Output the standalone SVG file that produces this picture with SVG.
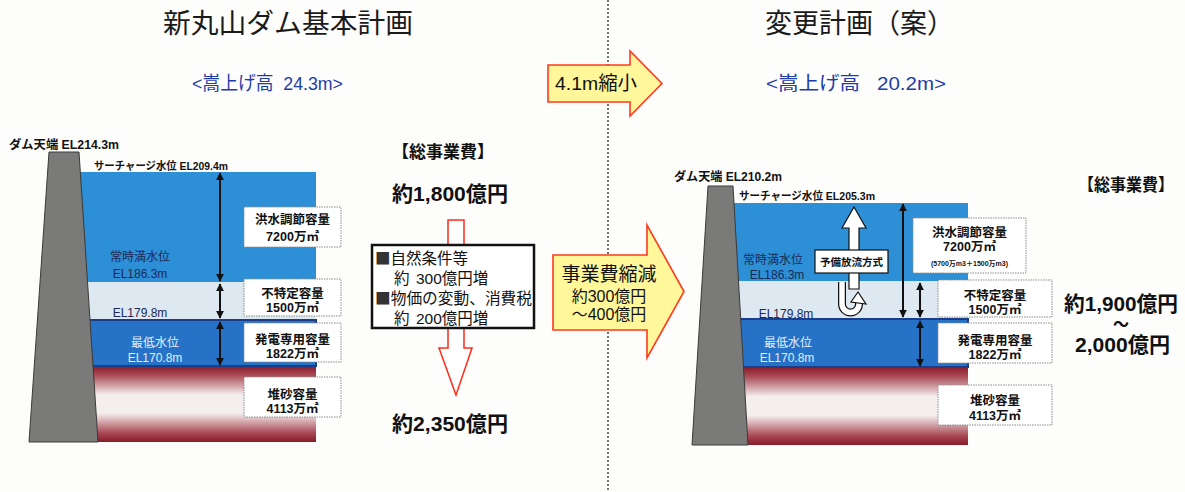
<svg xmlns="http://www.w3.org/2000/svg" width="1185" height="492" viewBox="0 0 1185 492">
  <defs>
    <linearGradient id="sediment" x1="0" y1="0" x2="0" y2="1">
      <stop offset="0" stop-color="#8a1a2a"/>
      <stop offset="0.12" stop-color="#a84a55"/>
      <stop offset="0.38" stop-color="#f5eeee"/>
      <stop offset="0.62" stop-color="#f5eeee"/>
      <stop offset="0.88" stop-color="#a84a55"/>
      <stop offset="1" stop-color="#8a1a2a"/>
    </linearGradient>
    <marker id="ah" viewBox="0 0 10 10" refX="9" refY="5" markerWidth="4" markerHeight="4" orient="auto-start-reverse">
      <path d="M0,0 L10,5 L0,10 Z" fill="#111"/>
    </marker>
  </defs>
  <style>
    text { font-family: "Liberation Sans", "Noto Sans CJK JP", sans-serif; }
    .title { font-size: 27px; fill: #1a1a1a; }
    .rise { font-size: 19px; fill: #1e3ca8; }
    .lab { font-size: 12.5px; font-weight: bold; fill: #111; }
    .lvl { font-size: 11px; font-weight: bold; fill: #111; }
    .wl { font-size: 12px; fill: #1b2a58; }
    .wl2 { font-size: 12px; fill: #e4eeff; }
    .box { fill: #ffffff; stroke: #8c8c8c; stroke-width: 1; stroke-dasharray: 1.5 1; }
    .bt { font-size: 12.5px; font-weight: bold; fill: #111; text-anchor: middle; }
    .cost { font-size: 21px; font-weight: bold; fill: #111; }
    .head { font-size: 17px; font-weight: bold; fill: #111; }
    .sq { font-family: "Noto Sans CJK JP", sans-serif; fill: #333; }
    .dam { fill: #7a7a78; stroke: #3a3a3a; stroke-width: 1; }
    .flood { fill: #2d8fd6; }
    .inact { fill: #dde8f1; }
    .power { fill: #2572c6; stroke: #1c3d88; stroke-width: 2; }
    .sed { fill: url(#sediment); }
    .dim { stroke: #111; stroke-width: 2; marker-start: url(#ah); marker-end: url(#ah); }
    .yarrow { fill: #fff79a; stroke: #ff3a1e; stroke-width: 1.6; }
  </style>

  <rect width="1185" height="492" fill="#fdfdfb"/>

  <!-- section titles -->
  <text class="title" x="163" y="33" textLength="250" lengthAdjust="spacingAndGlyphs">新丸山ダム基本計画</text>
  <text class="title" x="765" y="33">変更計画（案）</text>
  <text class="rise" x="192" y="90" textLength="151" lengthAdjust="spacingAndGlyphs" xml:space="preserve">&lt;嵩上げ高  24.3m&gt;</text>
  <text class="rise" x="766" y="90" textLength="180" lengthAdjust="spacingAndGlyphs" xml:space="preserve">&lt;嵩上げ高   20.2m&gt;</text>

  <!-- dividing line -->
  <line x1="608" y1="0" x2="608" y2="492" stroke="#444" stroke-width="1.5" stroke-dasharray="2 2"/>

  <!-- basic plan: reservoir cross-section -->
  <g id="reservoir-basic">
    <rect class="flood" x="70" y="172" width="246" height="110"/>
    <rect class="inact" x="70" y="282" width="246" height="38"/>
    <rect class="sed" x="70" y="366" width="246" height="76"/>
    <rect class="power" x="70" y="320" width="246" height="46"/>
    <polygon class="dam" points="49,152 79,152 98,442 29,442"/>
    <text class="lab" x="9" y="149" textLength="110" lengthAdjust="spacingAndGlyphs">ダム天端  EL214.3m</text>
    <text class="lvl" x="94" y="170" textLength="134" lengthAdjust="spacingAndGlyphs">サーチャージ水位  EL209.4m</text>
    <text class="wl" x="140" y="261" text-anchor="middle">常時満水位</text>
    <text class="wl" x="140" y="278" text-anchor="middle">EL186.3m</text>
    <text class="wl" x="140" y="317" text-anchor="middle">EL179.8m</text>
    <text class="wl2" x="155" y="347" text-anchor="middle">最低水位</text>
    <text class="wl2" x="155" y="362" text-anchor="middle">EL170.8m</text>
  </g>

  <g id="volumes-basic">
    <rect class="box" x="244" y="207" width="97" height="40"/>
    <text class="bt" x="292.5" y="224">洪水調節容量</text>
    <text class="bt" x="292.5" y="241">7200万㎡</text>
    <rect class="box" x="244" y="279" width="97" height="37"/>
    <text class="bt" x="292.5" y="298">不特定容量</text>
    <text class="bt" x="292.5" y="312">1500万㎡</text>
    <rect class="box" x="244" y="323" width="97" height="39"/>
    <text class="bt" x="292.5" y="344">発電専用容量</text>
    <text class="bt" x="292.5" y="358">1822万㎡</text>
    <rect class="box" x="244" y="377" width="97" height="40"/>
    <text class="bt" x="292.5" y="399">堆砂容量</text>
    <text class="bt" x="292.5" y="413">4113万㎡</text>
  </g>

  <!-- revised plan: reservoir cross-section -->
  <g id="reservoir-revised">
    <rect class="flood" x="725" y="203" width="243" height="78"/>
    <rect class="inact" x="725" y="281" width="243" height="38"/>
    <rect class="sed" x="725" y="367" width="243" height="78"/>
    <rect class="power" x="725" y="319" width="243" height="48"/>
    <polygon class="dam" points="708,186 733,186 748,445 692,445"/>
    <text class="lab" x="674" y="181" textLength="108" lengthAdjust="spacingAndGlyphs">ダム天端  EL210.2m</text>
    <text class="lvl" x="739" y="200" textLength="136" lengthAdjust="spacingAndGlyphs">サーチャージ水位  EL205.3m</text>
    <text class="wl" x="773" y="264" text-anchor="middle">常時満水位</text>
    <text class="wl" x="777" y="279" text-anchor="middle">EL186.3m</text>
    <text class="wl" x="786" y="318" text-anchor="middle">EL179.8m</text>
    <text class="wl2" x="788" y="347" text-anchor="middle">最低水位</text>
    <text class="wl2" x="787" y="362" text-anchor="middle">EL170.8m</text>
  </g>

  <g id="pre-release">
    <polygon points="854,207 866,228 859,228 859,289 849,289 849,228 842,228" fill="#fff" stroke="#111" stroke-width="1.2"/>
    <path d="M842,282 V304 A8.5,8.5 0 0 0 859,304 V301" fill="none" stroke="#111" stroke-width="8"/>
    <path d="M842,282 V304 A8.5,8.5 0 0 0 859,304 V301" fill="none" stroke="#fff" stroke-width="5.5"/>
    <polygon points="858,292 866,304 851,302" fill="#fff" stroke="#111" stroke-width="1.2"/>
    <rect x="815" y="250" width="73" height="23" fill="#fff" stroke="#111" stroke-width="1.2"/>
    <text x="851.5" y="266" text-anchor="middle" font-size="10.5" font-weight="bold" fill="#111">予備放流方式</text>
  </g>

  <g id="volumes-revised">
    <rect class="box" x="913" y="218" width="113" height="55"/>
    <text class="bt" x="969.5" y="237">洪水調節容量</text>
    <text class="bt" x="969.5" y="251">7200万㎡</text>
    <text x="969.5" y="266" text-anchor="middle" font-size="7" font-weight="bold" fill="#111">(5700万m3＋1500万m3)</text>
    <rect class="box" x="938" y="280" width="114" height="37"/>
    <text class="bt" x="995" y="300">不特定容量</text>
    <text class="bt" x="995" y="314">1500万㎡</text>
    <rect class="box" x="938" y="323" width="114" height="40"/>
    <text class="bt" x="995" y="345">発電専用容量</text>
    <text class="bt" x="995" y="359">1822万㎡</text>
    <rect class="box" x="938" y="385" width="114" height="40"/>
    <text class="bt" x="995" y="405">堆砂容量</text>
    <text class="bt" x="995" y="420">4113万㎡</text>
  </g>

  <!-- storage dimension arrows -->
  <g id="connectors">
    <line class="dim" x1="220" y1="173" x2="220" y2="281"/>
    <line class="dim" x1="220" y1="284" x2="220" y2="318"/>
    <line class="dim" x1="220" y1="322" x2="220" y2="365"/>
    <line class="dim" x1="903" y1="204" x2="903" y2="317"/>
    <line class="dim" x1="920" y1="283" x2="920" y2="317"/>
    <line class="dim" x1="920" y1="321" x2="920" y2="366"/>
  </g>

  <!-- total cost, basic plan -->
  <g id="cost-basic">
    <text class="head" x="392" y="158">【総事業費】</text>
    <text class="cost" x="392" y="201" textLength="116" lengthAdjust="spacingAndGlyphs">約1,800億円</text>
    <path d="M448,220 H464 V348 H472 L456,395 L439,348 H448 Z" fill="#fff" stroke="#ff2a1a" stroke-width="1.5"/>
    <rect x="372" y="245" width="162" height="83" fill="#fff" stroke="#111" stroke-width="2.5"/>
    <text x="375" y="264" font-size="15.5" fill="#111"><tspan class="sq">■</tspan>自然条件等</text>
    <text x="394" y="284" font-size="15.5" fill="#111">約<tspan x="416">300億円増</tspan></text>
    <text x="375" y="304" font-size="15.5" fill="#111" textLength="157" lengthAdjust="spacingAndGlyphs"><tspan class="sq">■</tspan>物価の変動、消費税</text>
    <text x="394" y="324" font-size="15.5" fill="#111">約<tspan x="416">200億円増</tspan></text>
    <text class="cost" x="392" y="431" textLength="116" lengthAdjust="spacingAndGlyphs">約2,350億円</text>
  </g>

  <!-- change arrows -->
  <g id="dam-height-change">
    <path class="yarrow" d="M548,65 H630 V51 L662,83.5 L630,116 V102 H548 Z"/>
    <text x="555" y="90" font-size="19" fill="#111" textLength="82" lengthAdjust="spacingAndGlyphs">4.1m縮小</text>
  </g>
  <g id="cost-change">
    <path class="yarrow" d="M553,255 H647 V225 L684,291.5 L647,358 V330 H553 Z"/>
    <text x="609" y="281" font-size="19" fill="#111" text-anchor="middle">事業費縮減</text>
    <text x="609" y="302" font-size="16" fill="#111" text-anchor="middle">約300億円</text>
    <text x="609" y="320" font-size="16" fill="#111" text-anchor="middle">～400億円</text>
  </g>

  <!-- total cost, revised plan -->
  <g id="cost-revised">
    <text class="head" x="1078" y="191" textLength="96" lengthAdjust="spacingAndGlyphs">【総事業費】</text>
    <text class="cost" x="1064" y="311" textLength="114" lengthAdjust="spacingAndGlyphs">約1,900億円</text>
    <text x="1121" y="330" text-anchor="middle" font-size="16" font-weight="bold" fill="#111">～</text>
    <text class="cost" x="1075" y="352" textLength="95" lengthAdjust="spacingAndGlyphs">2,000億円</text>
  </g>
</svg>
